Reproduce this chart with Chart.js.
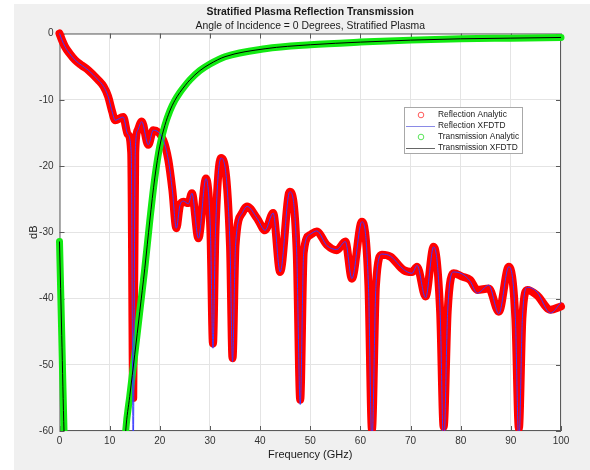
<!DOCTYPE html>
<html>
<head>
<meta charset="utf-8">
<script src="https://cdn.jsdelivr.net/npm/chart.js@4.4.1/dist/chart.umd.min.js"></script>
<style>
  html, body { margin: 0; padding: 0; background: #fff; }
  #wrap { width: 590px; height: 470px; }
</style>
</head>
<body>
<div id="wrap"><canvas id="plasmaChart" width="590" height="470"></canvas></div>
<script>
// reflection coefficient vs frequency (GHz / dB)
const reflFreq = [0, 0.5, 1.1, 2.0, 3.1, 4.4, 5.7, 7.7, 8.8, 9.7, 10.5, 11.1, 12.7, 13.6, 14.3, 14.7, 15.1, 15.6, 16.4,
  17.7, 18.7, 20.7, 21.7, 22.5, 23.3, 24.0, 24.7, 25.7, 26.4, 27.7, 29.2, 30.1, 30.6, 31.1, 32.2, 34.0, 34.5, 35.1,
  36.5, 37.4, 39.4, 41.0, 42.6, 44.0, 45.9, 47.3, 48.0, 48.7, 50.0, 51.3, 53.3, 55.3, 57.0, 58.3, 60.3, 61.6, 62.3,
  63.1, 64.3, 66.0, 68.6, 70.3, 71.3, 73.0, 74.6, 75.9, 76.6, 77.4, 78.6, 80.3, 81.9, 83.3, 85.6, 87.6, 89.6, 90.9,
  91.6, 92.3, 93.3, 95.2, 97.9, 100];
const reflAnalytic = [0, -1.0, -2.0, -3.0, -4.0, -4.8, -5.5, -7.0, -8.0, -9.5, -11.8, -13.1, -12.6, -15.2, -18, -55, -18, -14.6, -13.3,
  -16.8, -14.6, -16.1, -19.1, -23.6, -29.4, -26.0, -25.4, -25.6, -24.1, -30.9, -21.9, -30, -46.8, -30, -18.8, -32, -49.0, -32,
  -27.0, -26.1, -27.9, -29.7, -27.1, -36.0, -23.9, -33, -55.3, -33, -30.4, -29.9, -31.9, -32.7, -31.4, -37.0, -28.4, -38, -59.8,
  -38, -33.4, -33.7, -35.7, -36.0, -35.2, -39.7, -32.2, -42, -59.4, -42, -36.2, -36.7, -37.2, -38.7, -38.5, -42.0, -35.2, -43,
  -59.6, -43, -38.7, -39.5, -41.7, -41.2];
const reflXfdtd = [0, -1.0, -2.0, -3.0, -4.0, -4.8, -5.5, -7.0, -8.0, -9.5, -11.8, -13.1, -12.6, -15.2, -18, -63, -18, -14.6, -13.3,
  -16.8, -14.6, -16.1, -19.1, -23.6, -29.4, -26.0, -25.3, -25.7, -24.1, -30.9, -21.9, -30, -47.5, -30, -18.8, -32, -49.5, -32,
  -27.0, -26.1, -27.9, -29.7, -27.1, -36.0, -23.9, -33, -56, -33, -30.3, -29.8, -32.0, -32.6, -31.4, -37.0, -28.4, -38, -62,
  -38, -33.3, -33.6, -35.6, -36.2, -35.0, -39.9, -32.2, -42, -63, -42, -36.0, -36.3, -37.4, -39.2, -38.0, -42.3, -35.2, -43,
  -62, -43, -38.3, -39.0, -42.2, -40.6];

// transmission coefficient vs frequency (GHz / dB)
const transFreq = [0, 0.45, 0.9, 1.4, 12.6, 13.2, 14.0, 15.0, 16.0, 17.0, 18.0, 19.0, 20.0, 21.0, 22.0, 23.0, 24.0, 25.0,
  26.0, 28.0, 30.0, 33.0, 41.0, 50.0, 60.0, 70.0, 80.0, 90.0, 100];
const transAnalytic = [-31.4, -45.6, -60.0, -68, -68, -60.0, -54.8, -48.5, -42.0, -35.5, -28.3, -21.8, -17.0, -13.9, -11.7, -10.1, -8.9, -7.9,
  -7.0, -5.6, -4.6, -3.5, -2.3, -1.7, -1.3, -1.0, -0.8, -0.7, -0.6];
const transXfdtd = [-31.4, -45.6, -60.0, -68, -68, -60.0, -54.8, -48.5, -42.0, -35.5, -28.3, -21.8, -17.0, -13.9, -11.7, -10.1, -8.9, -7.9,
  -7.0, -5.6, -4.6, -3.5, -2.3, -1.7, -1.3, -1.0, -0.8, -0.7, -0.6];

const xTicks = [0, 10, 20, 30, 40, 50, 60, 70, 80, 90, 100];
const yTicks = [0, -10, -20, -30, -40, -50, -60];

const FONT = '"Liberation Sans", Arial, Helvetica, sans-serif';

function pairs(xs, ys) {
  return xs.map((x, i) => ({ x: x, y: ys[i] }));
}

// figure background, axes box, titles and the legend box
const matlabFrame = {
  id: 'matlabFrame',
  beforeDraw(chart) {
    const { ctx, chartArea: a } = chart;
    ctx.save();
    ctx.fillStyle = '#ffffff';
    ctx.fillRect(0, 0, chart.width, chart.height);
    ctx.fillStyle = '#f0f0f0';
    ctx.fillRect(14, 4, chart.width - 14, chart.height - 4);
    ctx.fillStyle = '#ffffff';
    ctx.fillRect(a.left, a.top, a.right - a.left, a.bottom - a.top);
    ctx.restore();
  },
  beforeDatasetsDraw(chart) {
    const { ctx, chartArea: a, scales } = chart;
    ctx.save();
    ctx.strokeStyle = '#5a5a5a';
    ctx.lineWidth = 1;
    ctx.strokeRect(a.left + 0.5, a.top + 0.5, a.right - a.left - 1, a.bottom - a.top - 1);
    ctx.beginPath();
    xTicks.forEach(v => {
      const px = Math.round(scales.x.getPixelForValue(v)) + 0.5;
      ctx.moveTo(px, a.bottom); ctx.lineTo(px, a.bottom - 5);
      ctx.moveTo(px, a.top); ctx.lineTo(px, a.top + 5);
    });
    yTicks.forEach(v => {
      const py = Math.round(scales.y.getPixelForValue(v)) + 0.5;
      ctx.moveTo(a.left, py); ctx.lineTo(a.left + 5, py);
      ctx.moveTo(a.right, py); ctx.lineTo(a.right - 5, py);
    });
    ctx.stroke();
    ctx.restore();
  },
  afterDraw(chart) {
    const { ctx, chartArea: a } = chart;
    const cx = (a.left + a.right) / 2;
    ctx.save();
    ctx.fillStyle = '#1a1a1a';
    ctx.textAlign = 'center';
    ctx.textBaseline = 'middle';
    ctx.font = 'bold 10.4px ' + FONT;
    ctx.fillText('Stratified Plasma Reflection Transmission', cx, 12);
    ctx.font = '10.4px ' + FONT;
    ctx.fillText('Angle of Incidence = 0 Degrees, Stratified Plasma', cx, 26);

    // legend
    const bx = 404, by = 107, bw = 118, bh = 46;
    ctx.fillStyle = '#ffffff';
    ctx.fillRect(bx, by, bw, bh);
    ctx.strokeStyle = '#a8a8a8';
    ctx.strokeRect(bx + 0.5, by + 0.5, bw, bh);
    ctx.font = '8.4px ' + FONT;
    ctx.textAlign = 'left';
    chart.data.datasets.forEach((ds, i) => {
      const y = by + 8 + i * 11;
      if (ds.legendMark === 'circle') {
        ctx.strokeStyle = ds.legendColor;
        ctx.lineWidth = 1;
        ctx.beginPath();
        ctx.arc(bx + 17, y, 2.8, 0, Math.PI * 2);
        ctx.stroke();
      } else {
        ctx.strokeStyle = ds.legendColor;
        ctx.lineWidth = 1;
        ctx.beginPath();
        ctx.moveTo(bx + 2, y + 0.5);
        ctx.lineTo(bx + 31, y + 0.5);
        ctx.stroke();
      }
      ctx.fillStyle = '#1a1a1a';
      ctx.fillText(ds.label, bx + 34, y);
    });
    ctx.restore();
  }
};

const clipArea = { left: 6, top: 6, right: 6, bottom: 0 };

new Chart(document.getElementById('plasmaChart'), {
  type: 'line',
  data: {
    datasets: [
      {
        label: 'Reflection Analytic',
        data: pairs(reflFreq, reflAnalytic),
        borderColor: '#ff0000',
        borderWidth: 8,
        borderJoinStyle: 'round',
        borderCapStyle: 'round',
        pointRadius: 0,
        cubicInterpolationMode: 'monotone',
        clip: clipArea,
        order: 4,
        legendMark: 'circle',
        legendColor: '#ff5a5a'
      },
      {
        label: 'Reflection XFDTD',
        data: pairs(reflFreq, reflXfdtd),
        borderColor: '#3a3aff',
        borderWidth: 1,
        pointRadius: 0,
        cubicInterpolationMode: 'monotone',
        clip: clipArea,
        order: 2,
        legendMark: 'line',
        legendColor: '#8a8ae6'
      },
      {
        label: 'Transmission Analytic',
        data: pairs(transFreq, transAnalytic),
        borderColor: '#12ea12',
        borderWidth: 7,
        borderJoinStyle: 'round',
        borderCapStyle: 'round',
        pointRadius: 0,
        cubicInterpolationMode: 'monotone',
        clip: clipArea,
        order: 3,
        legendMark: 'circle',
        legendColor: '#5ae65a'
      },
      {
        label: 'Transmission XFDTD',
        data: pairs(transFreq, transXfdtd),
        borderColor: '#000000',
        borderWidth: 1,
        pointRadius: 0,
        cubicInterpolationMode: 'monotone',
        clip: clipArea,
        order: 1,
        legendMark: 'line',
        legendColor: '#666666'
      }
    ]
  },
  options: {
    responsive: false,
    animation: false,
    devicePixelRatio: 1,
    layout: { padding: { left: 0, right: 29, top: 33.5, bottom: 0 } },
    plugins: {
      legend: { display: false },
      tooltip: { enabled: false }
    },
    scales: {
      x: {
        type: 'linear',
        min: 0,
        max: 100,
        afterFit: s => { s.height = 39; },
        afterBuildTicks: s => { s.ticks = xTicks.map(v => ({ value: v })); },
        grid: { color: '#e4e4e4', drawTicks: false },
        border: { display: false },
        ticks: { font: { family: FONT, size: 10 }, color: '#333333', padding: 4, maxRotation: 0, autoSkip: false },
        title: {
          display: true,
          text: 'Frequency (GHz)',
          font: { family: FONT, size: 11 },
          color: '#1a1a1a',
          padding: { top: 0, bottom: 8 }
        }
      },
      y: {
        type: 'linear',
        min: -60,
        max: 0,
        afterFit: s => { s.width = 59.5; },
        afterBuildTicks: s => { s.ticks = yTicks.map(v => ({ value: v })); },
        grid: { color: '#e4e4e4', drawTicks: false },
        border: { display: false },
        ticks: { font: { family: FONT, size: 10 }, color: '#333333', padding: 6, autoSkip: false },
        title: {
          display: true,
          text: 'dB',
          font: { family: FONT, size: 11 },
          color: '#1a1a1a',
          padding: { top: 27, bottom: 0 }
        }
      }
    }
  },
  plugins: [matlabFrame]
});
</script>
</body>
</html>
